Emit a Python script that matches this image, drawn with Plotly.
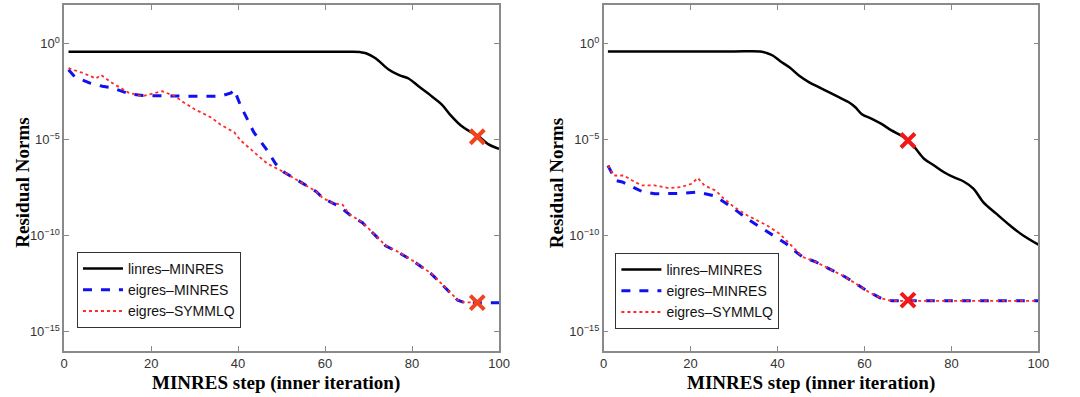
import plotly.graph_objects as go

# ---------------- Left panel data ----------------
L_lin_x = [1, 10, 20, 30, 40, 50, 60, 66, 68, 69.4, 71.6, 74.7, 76.9, 79.2, 81.5, 84.5,
           86.8, 89, 91.3, 93.6, 95.1, 97.4, 100]
L_lin_y = [0.37, 0.37, 0.37, 0.37, 0.37, 0.37, 0.37, 0.37, 0.355, 0.31, 0.17, 4.3e-2, 2.3e-2,
           1.5e-2, 5.9e-3, 1.8e-3, 6.8e-4, 1.7e-4, 5.2e-5, 2.4e-5, 1.6e-5, 6.0e-6, 3.3e-6]

L_eigM_x = [1, 2.4, 5.8, 8.8, 11, 14.9, 18, 24, 28.5, 36, 38.4, 39.1, 39.9, 40.6, 43.6, 46.7,
            48.6, 50.4, 54.2, 58, 59.5, 61.8, 63.3, 65.6, 68.6, 71.6, 73.9, 76.9, 80.7, 84.5,
            87.5, 90.5, 92, 100]
L_eigM_y = [4.3e-2, 1.9e-2, 8.9e-3, 5.9e-3, 4.9e-3, 2.4e-3, 1.95e-3, 1.8e-3, 1.8e-3, 1.8e-3,
            2.7e-3, 4.0e-3, 1.5e-3, 5.6e-4, 2.4e-5, 2.7e-6, 5.6e-7, 2.1e-7, 6.5e-8, 1.95e-8,
            8.9e-9, 5.0e-9, 3.3e-9, 1.26e-9, 4.7e-10, 1.0e-10, 3.0e-11, 1.35e-11, 4.1e-12,
            1.0e-12, 2.1e-13, 4.4e-14, 3.3e-14, 3.2e-14]

L_eigS_x = [1, 4.3, 7.3, 8.5, 11, 14.9, 18, 22.5, 25.5, 27, 30, 33.8, 36, 39.1, 40.6, 43.6,
            46.7, 50.4, 54.2, 58, 59.5, 61.8, 64, 65.6, 68.6, 71.6, 73.9, 76.9, 80.7, 84.5,
            87.5, 90.5, 92, 95]
L_eigS_y = [5.2e-2, 2.9e-2, 1.5e-2, 2.3e-2, 8.9e-3, 2.7e-3, 1.8e-3, 3.3e-3, 1.8e-3, 1.0e-3,
            3.8e-4, 1.4e-4, 5.9e-5, 2.4e-5, 8.9e-6, 2.2e-6, 5.6e-7, 2.1e-7, 6.5e-8, 1.95e-8,
            8.9e-9, 5.0e-9, 4.1e-9, 1.3e-9, 4.9e-10, 1.05e-10, 3.1e-11, 1.4e-11, 4.2e-12,
            1.05e-12, 2.2e-13, 4.5e-14, 3.4e-14, 3.3e-14]

L_mark_x = [95, 95]
L_mark_y = [1.4e-5, 3.3e-14]

# ---------------- Right panel data ----------------
R_lin_x = [1, 10, 20, 30, 36, 37.5, 39, 40.5, 42.8, 45, 47.3, 49.6, 51.8, 54.1, 56.4, 57.9,
           59.4, 61.7, 63.9, 66.2, 68.5, 69.8, 71.5, 73.7, 76, 78.3, 80.5, 82.8, 85.1, 87.3,
           90.3, 93.4, 96.4, 100]
R_lin_y = [0.385, 0.385, 0.385, 0.385, 0.385, 0.32, 0.23, 0.126, 5.6e-2, 2.1e-2, 9.5e-3,
           5.2e-3, 2.9e-3, 1.6e-3, 8.7e-4, 4.8e-4, 2.1e-4, 1.2e-4, 6.5e-5, 3.0e-5, 1.6e-5,
           1.0e-5, 4.0e-6, 1.0e-6, 4.5e-7, 2.0e-7, 1.1e-7, 6.6e-8, 2.75e-8, 5.6e-9, 1.4e-9,
           3.5e-10, 1.05e-10, 3.4e-11]

R_eigM_x = [1, 2.8, 4.3, 6.6, 8.8, 11.8, 14.9, 17.9, 21.7, 23.9, 25.4, 27.7, 30, 33, 36, 39,
            42, 44.3, 45.8, 48.8, 52.6, 55.6, 58.6, 60.9, 63.9, 66.2, 100]
R_eigM_y = [4.5e-7, 7.4e-8, 6.2e-8, 3.4e-8, 2.0e-8, 1.5e-8, 1.5e-8, 1.6e-8, 1.85e-8, 1.5e-8,
            1.2e-8, 5.6e-9, 2.5e-9, 7.6e-10, 2.8e-10, 1.05e-10, 3.8e-11, 1.4e-11, 7.8e-12,
            4.3e-12, 1.6e-12, 7.1e-13, 2.6e-13, 1.2e-13, 5.4e-14, 4.1e-14, 4.1e-14]

R_eigS_x = [1, 2.4, 4.7, 6.6, 8.8, 11.8, 14.9, 17.9, 20.2, 21.7, 23.2, 24.7, 25.8, 27.7, 30,
            33, 37.5, 40.5, 43.5, 45.8, 48.8, 52.6, 55.6, 58.6, 60.9, 63.9, 66.2, 100]
R_eigS_y = [4.5e-7, 1.35e-7, 1.35e-7, 7.4e-8, 4.1e-8, 4.1e-8, 3.0e-8, 3.4e-8, 5.0e-8, 1.0e-7,
            4.1e-8, 3.0e-8, 2.2e-8, 8.3e-9, 3.1e-9, 1.15e-9, 3.5e-10, 1.26e-10, 2.6e-11,
            7.8e-12, 4.3e-12, 1.6e-12, 7.1e-13, 2.6e-13, 1.2e-13, 5.4e-14, 4.1e-14, 4.1e-14]

R_mark_x = [70, 70]
R_mark_y = [8.9e-6, 4.4e-14]

series_names = ["linres\u2013MINRES", "eigres\u2013MINRES", "eigres\u2013SYMMLQ"]
x_ticks = [0, 20, 40, 60, 80, 100]
y_ticks = [1, 1e-5, 1e-10, 1e-15]
y_ticktext = ["10<sup>0</sup>", "10<sup>\u22125</sup>", "10<sup>\u221210</sup>", "10<sup>\u221215</sup>"]

BLACK = "#000000"
BLUE = "#1010f0"
RED = "#ff2a2a"

W, H = 1080, 397


def px(X):
    return X / W


def py(Y):
    return 1 - Y / H


fig = go.Figure()

panels = [
    ("x", "y", "legend", L_lin_x, L_lin_y, L_eigM_x, L_eigM_y, L_eigS_x, L_eigS_y, L_mark_x, L_mark_y, "#f2441c"),
    ("x2", "y2", "legend2", R_lin_x, R_lin_y, R_eigM_x, R_eigM_y, R_eigS_x, R_eigS_y, R_mark_x, R_mark_y, "#f01818"),
]
for xa, ya, lg, lx, ly, mx, my, sx, sy, kx, ky, mcol in panels:
    fig.add_trace(go.Scatter(x=lx, y=ly, mode="lines", name=series_names[0], xaxis=xa, yaxis=ya,
                             legend=lg, line=dict(color=BLACK, width=2.5), line_shape="spline"))
    fig.add_trace(go.Scatter(x=mx, y=my, mode="lines", name=series_names[1], xaxis=xa, yaxis=ya,
                             legend=lg, line=dict(color=BLUE, width=3, dash="dash")))
    fig.add_trace(go.Scatter(x=sx, y=sy, mode="lines", name=series_names[2], xaxis=xa, yaxis=ya,
                             legend=lg, line=dict(color=RED, width=1.8, dash="dot")))
    fig.add_trace(go.Scatter(x=kx, y=ky, mode="markers", showlegend=False, xaxis=xa, yaxis=ya,
                             marker=dict(symbol="x-thin", size=14, color=mcol,
                                         line=dict(width=4, color=mcol))))

axis_common = dict(showgrid=False, zeroline=False, showline=True, linecolor="#8a8a8a",
                   linewidth=1.5, mirror="allticks", ticks="inside", ticklen=5,
                   tickcolor="#8a8a8a", tickfont=dict(family="Liberation Sans, Arial", size=13,
                                                      color="#333333"))

xdom_L = [px(61), px(502)]
xdom_R = [px(608), px(1049)]
ydom = [py(351), py(5)]

legend_font = dict(family="Liberation Sans, Arial", size=14, color="#111111")
fig.update_layout(
    width=W, height=H,
    margin=dict(l=0, r=0, t=0, b=0),
    paper_bgcolor="white", plot_bgcolor="white",
    xaxis=dict(domain=xdom_L, range=[0, 100], tickvals=x_ticks, anchor="y", **axis_common),
    yaxis=dict(domain=ydom, type="log", range=[-16, 2], tickvals=y_ticks, ticktext=y_ticktext,
               anchor="x", **axis_common),
    xaxis2=dict(domain=xdom_R, range=[0, 100], tickvals=x_ticks, anchor="y2", **axis_common),
    yaxis2=dict(domain=ydom, type="log", range=[-16, 2], tickvals=y_ticks, ticktext=y_ticktext,
                anchor="x2", **axis_common),
    legend=dict(x=px(74), y=py(252), xanchor="left", yanchor="top",
                bgcolor="white", bordercolor="#333333", borderwidth=1,
                font=legend_font, tracegroupgap=0, itemwidth=40),
    legend2=dict(x=px(620), y=py(253), xanchor="left", yanchor="top",
                 bgcolor="white", bordercolor="#333333", borderwidth=1,
                 font=legend_font, tracegroupgap=0, itemwidth=40),
    showlegend=True,
)

title_font = dict(family="Liberation Serif, Times New Roman", size=19, color="#000000")
for cx in [276, 818]:
    fig.add_annotation(text="<b>MINRES step (inner iteration)</b>", xref="paper", yref="paper",
                       x=px(cx), y=py(383), xanchor="center", yanchor="middle",
                       showarrow=False, font=title_font)
for cx in [18, 560]:
    fig.add_annotation(text="<b>Residual Norms</b>", xref="paper", yref="paper",
                       x=px(cx), y=py(183), xanchor="center", yanchor="middle",
                       textangle=-90, showarrow=False, font=title_font)

# remove the default 8px page margin so the figure fills the window exactly
fig.write_html("out.html", config={"displayModeBar": False},
               post_script="document.body.style.margin='0';document.body.style.overflow='hidden';")
